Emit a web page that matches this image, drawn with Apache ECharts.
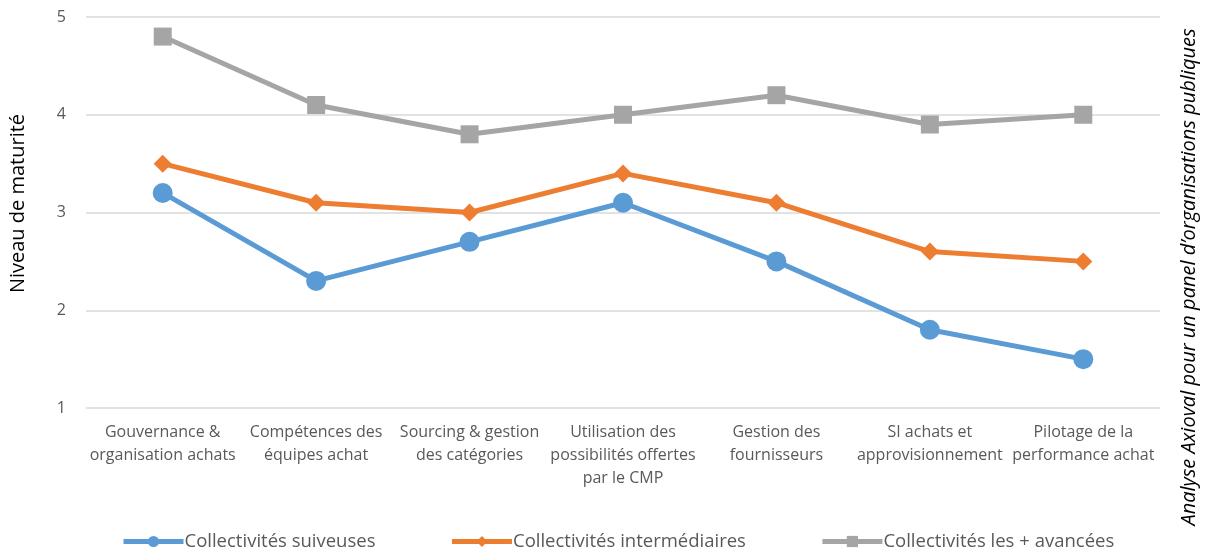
<!DOCTYPE html>
<html>
<head>
<meta charset="utf-8">
<script src="https://cdn.jsdelivr.net/npm/echarts@6/dist/echarts.min.js"></script>
<style>
  html, body { margin: 0; padding: 0; background: #fff; }
  #chart { width: 1208px; height: 554px; }
</style>
</head>
<body>
<div id="chart"></div>
<script>
const categories = [
  'Gouvernance &\norganisation achats',
  'Compétences des\néquipes achat',
  'Sourcing & gestion\ndes catégories',
  'Utilisation des\npossibilités offertes\npar le CMP',
  'Gestion des\nfournisseurs',
  'SI achats et\napprovisionnement',
  'Pilotage de la\nperformance achat'
];
const suiveuses = [3.2, 2.3, 2.7, 3.1, 2.5, 1.8, 1.5];
const intermediaires = [3.5, 3.1, 3.0, 3.4, 3.1, 2.6, 2.5];
const avancees = [4.8, 4.1, 3.8, 4.0, 4.2, 3.9, 4.0];

const font = '"Open Sans", sans-serif';
const grey = '#595959';

let myChart = echarts.init(document.getElementById('chart'), null, { renderer: 'canvas' });

function line_series(name, data, color, symbol, size){
  return {
    name: name,
    type: 'line',
    data: data,
    symbol: symbol,
    symbolSize: size,
    lineStyle: { width: 5, color: color },
    itemStyle: { color: color },
    emphasis: { disabled: true }
  };
}

let option = {
  animation: false,
  textStyle: { fontFamily: font },
  grid: { left: 86, right: 48, top: 17, bottom: 146, outerBoundsMode: 'none' },
  xAxis: {
    type: 'category',
    data: categories,
    boundaryGap: true,
    axisLine: { show: false },
    axisTick: { show: false },
    axisLabel: {
      interval: 0,
      color: grey,
      fontSize: 16,
      lineHeight: 23,
      margin: 13,
      fontFamily: font
    }
  },
  yAxis: {
    type: 'value',
    min: 1,
    max: 5,
    interval: 1,
    name: 'Niveau de maturité',
    nameLocation: 'middle',
    nameGap: 58,
    nameTextStyle: { color: '#000', fontSize: 20, fontFamily: font, padding: [0, 0, 0, 18] },
    axisLine: { show: false },
    axisTick: { show: false },
    axisLabel: { color: grey, fontSize: 16, margin: 20, fontFamily: font },
    splitLine: { lineStyle: { color: '#d9d9d9', width: 1.5 } }
  },
  legend: {
    bottom: -2,
    left: 116,
    itemWidth: 60,
    itemHeight: 14,
    itemGap: 74,
    lineStyle: { width: 5 },
    textStyle: { color: grey, fontSize: 18.5, fontFamily: font, padding: [0, 0, 0, -4] },
    data: ['Collectivités suiveuses', 'Collectivités intermédiaires', 'Collectivités les + avancées']
  },
  graphic: [
    {
      type: 'text',
      left: 1179,
      top: 'middle',
      rotation: Math.PI / 2,
      style: {
        text: 'Analyse Axioval pour un panel d\u2019organisations publiques',
        fontSize: 20,
        fontStyle: 'italic',
        fontFamily: font,
        fill: '#000'
      }
    }
  ],
  series: [
    line_series('Collectivités suiveuses', suiveuses, '#5B9BD5', 'circle', 20),
    line_series('Collectivités intermédiaires', intermediaires, '#ED7D31', 'diamond', 18),
    line_series('Collectivités les + avancées', avancees, '#A5A5A5', 'rect', 18)
  ]
};

myChart.setOption(option);
</script>
</body>
</html>
